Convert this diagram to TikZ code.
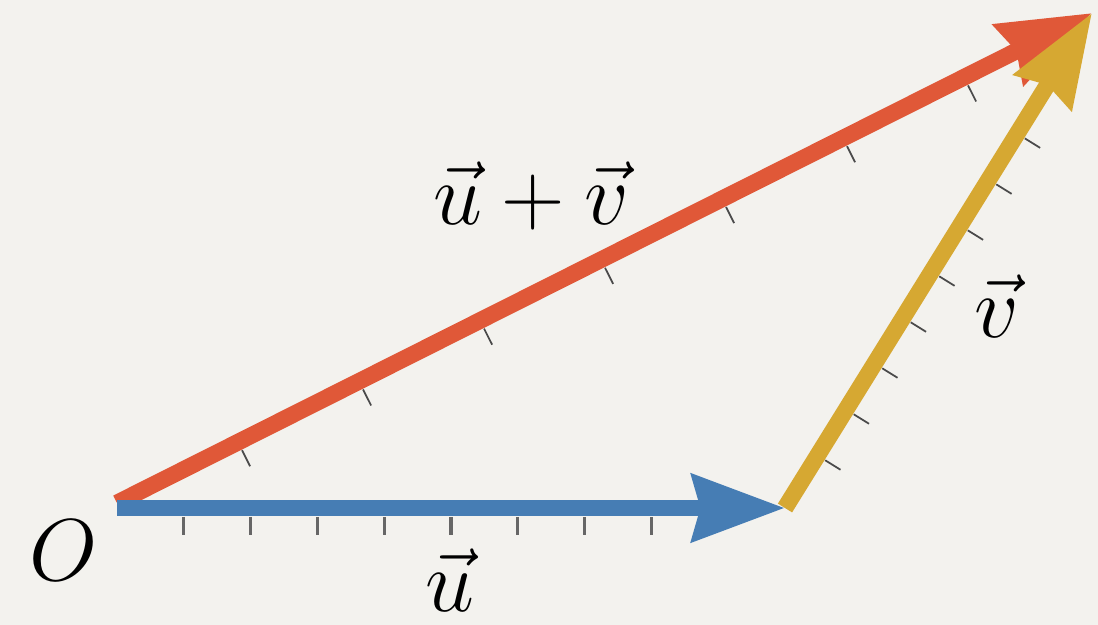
\documentclass[tikz,border=0pt]{standalone}
\usepackage{fix-cm}
\usepackage{amsmath}
\usepackage{xcolor}
\usepackage{tikz}
\usetikzlibrary{arrows.meta, calc}
\definecolor{paper}{HTML}{F3F2EE}
\definecolor{ublue}{HTML}{467DB4}
\definecolor{vyellow}{HTML}{D6A832}
\definecolor{sred}{HTML}{E05838}
\definecolor{tickdark}{HTML}{4A4A4A}
\tikzset{
  vecarrow/.style={-{Stealth[length=1.85cm, width=1.32cm, inset=0.16cm]}, line width=9.5pt},
  utick/.style={draw=gray!80!black, line width=1.8pt},
  vtick/.style={draw=tickdark, line width=1pt},
  veclabel/.style={anchor=base, inner sep=0pt, font=\fontsize{50}{60}\selectfont},
}
\begin{document}
\begin{tikzpicture}
\fill[paper] (0,0) rectangle (21.96,12.5);
\useasboundingbox (0,0) rectangle (21.96,12.5);
\coordinate (O) at (2.34,2.34);
\coordinate (R) at (2.34,2.44);
\coordinate (U) at (15.70,2.34);
\coordinate (S) at (21.84,12.24);
\draw[vecarrow, sred] (R) -- (S);
\draw[vecarrow, ublue] (O) -- (U);
\draw[vecarrow, vyellow] (U) -- (S);
\foreach \k in {1,...,8} {
  \coordinate (t) at ($(O)!\k*0.1!(U)$);
  \draw[utick] ($(t)!0.18cm!-90:(U)$) -- ($(t)!0.54cm!-90:(U)$);
}
\foreach \k in {0,...,7} {
  \coordinate (t) at ($(U)!0.106+\k*0.0929!(S)$);
  \draw[vtick] ($(t)!0.18cm!-90:(S)$) -- ($(t)!0.54cm!-90:(S)$);
}
\foreach \k in {1,...,7} {
  \coordinate (t) at ($(R)!\k*0.1241!(S)$);
  \draw[vtick] ($(t)!0.18cm!-90:(S)$) -- ($(t)!0.54cm!-90:(S)$);
}
\node[veclabel] (o) at (1.28,0.88) {$O$};
\node[veclabel] (u) at (9.0,0.26) {$\vec{u}$};
\node[veclabel] (uv) at (10.62,8.0) {$\vec{u}+\vec{v}$};
\node[veclabel] (v) at (19.94,5.74) {$\vec{v}$};
\end{tikzpicture}
\end{document}
